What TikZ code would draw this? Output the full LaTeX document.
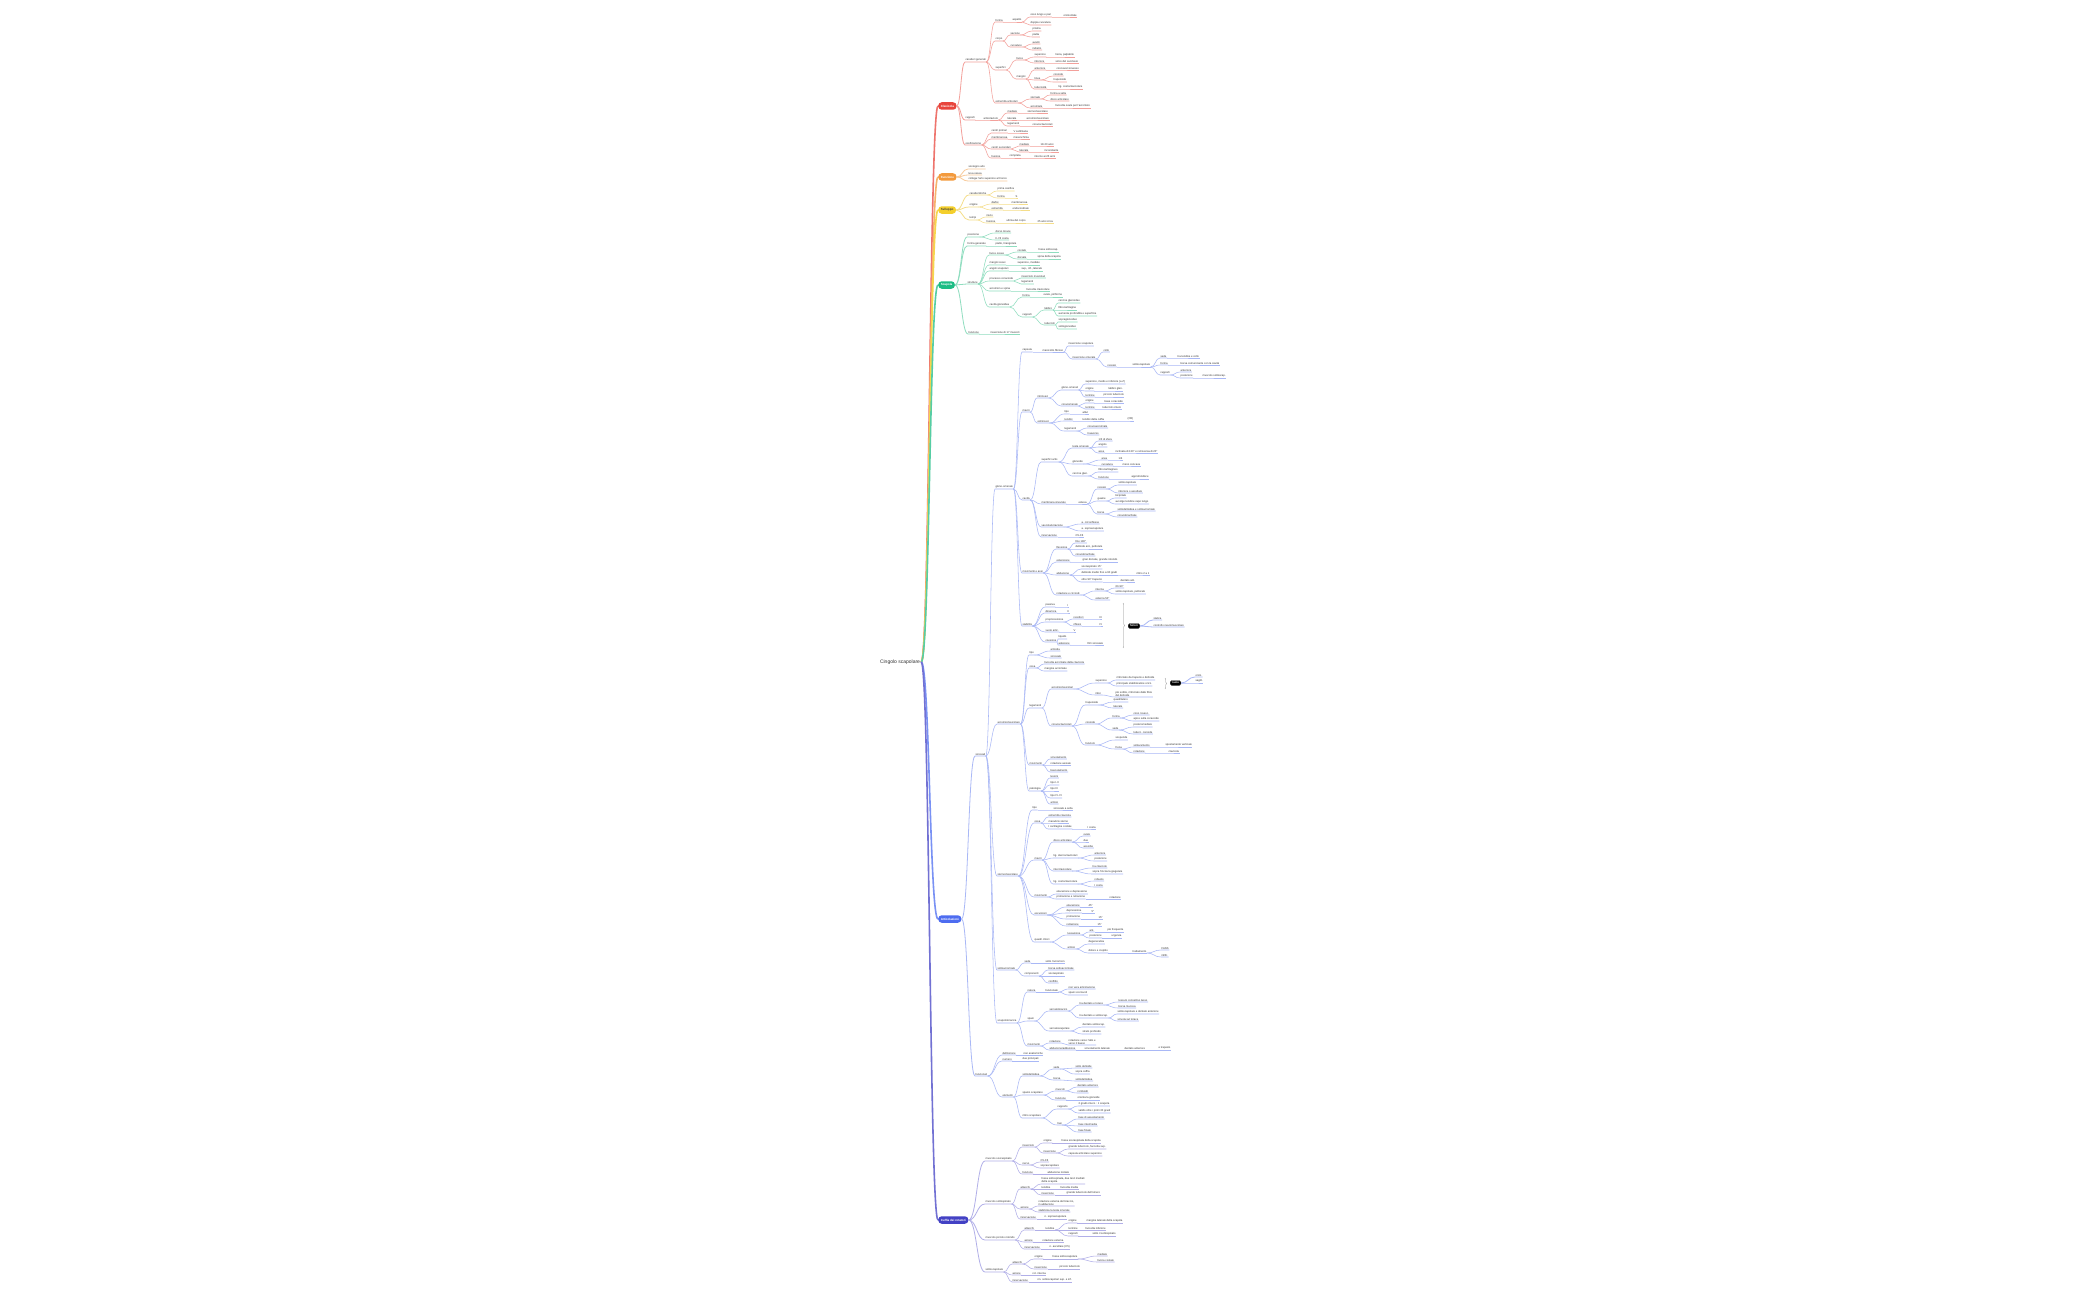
\documentclass[tikz,border=0pt]{standalone}
\usepackage{fontspec}
\setmainfont{Liberation Sans}
\usetikzlibrary{calc,decorations.pathreplacing}
\definecolor{txt}{HTML}{333333}
\definecolor{cR}{HTML}{E8453C}\definecolor{lR}{HTML}{F3A09B}
\definecolor{cO}{HTML}{F39A3D}\definecolor{lO}{HTML}{F8CB9C}
\definecolor{cY}{HTML}{F4CF2C}\definecolor{lY}{HTML}{F5DE8A}
\definecolor{cG}{HTML}{1DBD85}\definecolor{lG}{HTML}{8FDDBF}
\definecolor{cB}{HTML}{4D6CF0}\definecolor{lB}{HTML}{A9B8F6}
\definecolor{cP}{HTML}{4341C4}\definecolor{lP}{HTML}{B1AFE8}
\newcommand\tf{\fontsize{2.7}{3.1}\selectfont}
\tikzset{
 tp/.style={anchor=south west, inner xsep=0.4pt, inner ysep=0.45pt, font=\tf, text=txt, align=left},
 cn/.style={draw=br, line width=0.55pt},
 cnb/.style={draw=br, line width=0.8pt},
 pill/.style={anchor=west, rounded corners=3.5pt, minimum height=7.5pt, inner xsep=2.6pt, inner ysep=0pt, text=white, font=\bfseries\fontsize{3}{3.5}\selectfont},
 rootln/.style={line width=1.6pt},
 brc/.style={decorate, decoration={brace, amplitude=1.5pt}, draw=black!45, line width=0.4pt},
 sumn/.style={anchor=west, fill=black, draw=black!60, text=white, rounded corners=1.5pt, minimum height=5pt, inner xsep=2pt, inner ysep=0pt, font=\bfseries\fontsize{2.7}{3}\selectfont}
}
\newcommand\T[5]{\node[tp] (#1) at (#3,#4) {#5};
 \draw[cn] let \p1=(#2.south east), \p2=(#1.south west) in (\p1) .. controls ({0.5*\x1+0.5*\x2},\y1) and ({0.5*\x1+0.5*\x2},\y2) .. (\p2) -- (#1.south east);}
\newcommand\TP[5]{\node[tp] (#1) at (#3,#4) {#5};
 \draw[cnb] let \p1=(#2.east), \p2=(#1.south west) in (\p1) .. controls ({0.5*\x1+0.5*\x2},\y1) and ({0.5*\x1+0.5*\x2},\y2) .. (\p2) -- (#1.south east);}
\newcommand\RT[2]{\draw[rootln,draw=#2] let \p1=(root.east), \p2=(#1.west) in (\p1) .. controls ({0.5*\x1+0.5*\x2},\y1) and ({0.5*\x1+0.5*\x2},\y2) .. (\p2);}
\begin{document}
\begin{tikzpicture}[x=1pt,y=-1pt]
\fill[white] (0,0) rectangle (2100,1300);
\useasboundingbox (0,0) rectangle (2100,1300);
\node[font=\fontsize{5}{6}\selectfont, text=txt, inner sep=1pt] (root) at (900,662) {Cingolo scapolare};
% pill placeholders for connectors
\path (938,106) coordinate (R0) (938,177) coordinate (O0) (938,210) coordinate (Y0) (938,285) coordinate (G0) (938,919) coordinate (B0) (938,1220) coordinate (P0);
\draw[rootln,draw=cR!75] let \p1=(root.east), \p2=(R0) in (\p1) .. controls ({0.5*\x1+0.5*\x2},\y1) and ({0.5*\x1+0.5*\x2},\y2) .. (\p2);
\draw[rootln,draw=cO!75] let \p1=(root.east), \p2=(O0) in (\p1) .. controls ({0.5*\x1+0.5*\x2},\y1) and ({0.5*\x1+0.5*\x2},\y2) .. (\p2);
\draw[rootln,draw=cY!85] let \p1=(root.east), \p2=(Y0) in (\p1) .. controls ({0.5*\x1+0.5*\x2},\y1) and ({0.5*\x1+0.5*\x2},\y2) .. (\p2);
\draw[rootln,draw=cG!75] let \p1=(root.east), \p2=(G0) in (\p1) .. controls ({0.5*\x1+0.5*\x2},\y1) and ({0.5*\x1+0.5*\x2},\y2) .. (\p2);
\draw[rootln,draw=cB!75] let \p1=(root.east), \p2=(B0) in (\p1) .. controls ({0.5*\x1+0.5*\x2},\y1) and ({0.5*\x1+0.5*\x2},\y2) .. (\p2);
\draw[rootln,draw=cP!75] let \p1=(root.east), \p2=(P0) in (\p1) .. controls ({0.5*\x1+0.5*\x2},\y1) and ({0.5*\x1+0.5*\x2},\y2) .. (\p2);
\node[pill,fill=cR] (R) at (R0) {Clavicola};
\node[pill,fill=cO] (O) at (O0) {Funzione};
\node[pill,fill=cY,text=black!75] (Y) at (Y0) {Sviluppo};
\node[pill,fill=cG] (G) at (G0) {Scapola};
\node[pill,fill=cB] (B) at (B0) {Articolazioni};
\node[pill,fill=cP] (P) at (P0) {Cuffia dei rotatori};
% ================= RED
\colorlet{br}{lR}
\TP{r1}{R}{965}{62}{caratteri generali}
\T{r1a}{r1}{995}{22}{forma}
\T{r1a1}{r1a}{1012}{22}{aspetto}
\T{r1a1a}{r1a1}{1030}{17}{osso lungo e pari}
\T{r1a1a1}{r1a1a}{1063}{17}{orizzontale}
\T{r1a1b}{r1a1}{1030}{25}{doppia curvatura}
\T{r1b}{r1}{995}{41}{corpo}
\T{r1b1}{r1b}{1010}{35}{sezione}
\T{r1b1a}{r1b1}{1032}{31}{prisma}
\T{r1b1b}{r1b1}{1032}{37}{piatta}
\T{r1b2}{r1b}{1010}{47}{curvature}
\T{r1b2a}{r1b2}{1032}{44}{avanti}
\T{r1b2b}{r1b2}{1032}{50}{indietro}
\T{r1c}{r1}{995}{70}{superfici}
\T{r1c1}{r1c}{1016}{60}{facce}
\T{r1c1a}{r1c1}{1034}{57}{superiore}
\T{r1c1a1}{r1c1a}{1055}{57}{liscia, palpabile}
\T{r1c1b}{r1c1}{1034}{63}{inferiore}
\T{r1c1b1}{r1c1b}{1055}{63}{solco del succlavio}
\T{r1c2}{r1c}{1016}{79}{margini}
\T{r1c2a}{r1c2}{1034}{70}{anteriore}
\T{r1c2a1}{r1c2a}{1056}{70}{concavo/convesso}
\T{r1c2b}{r1c2}{1034}{80}{linee}
\T{r1c2b1}{r1c2b}{1053}{76}{conoide}
\T{r1c2b2}{r1c2b}{1053}{82}{trapezoide}
\T{r1c2c}{r1c2}{1034}{89}{tuberosità}
\T{r1c2c1}{r1c2c}{1058}{89}{lig. costoclavicolare}
\T{r1d}{r1}{995}{103}{estremità articolari}
\T{r1d1}{r1d}{1030}{99}{sternale}
\T{r1d1a}{r1d1}{1050}{95}{forma a sella}
\T{r1d1b}{r1d1}{1050}{101}{disco articolare}
\T{r1d2}{r1d}{1030}{108}{acromiale}
\T{r1d2a}{r1d2}{1055}{108}{faccetta ovale per l'acromion}
\TP{r2}{R}{965}{120}{rapporti}
\T{r2a}{r2}{983}{120}{articolazioni}
\T{r2a1}{r2a}{1007}{113}{mediale}
\T{r2a1a}{r2a1}{1027}{113}{sternoclavicolare}
\T{r2a2}{r2a}{1007}{120}{laterale}
\T{r2a2a}{r2a2}{1026}{120}{acromioclavicolare}
\T{r2a3}{r2a}{1007}{126}{legamenti}
\T{r2a3a}{r2a3}{1032}{126}{coracoclavicolari}
\TP{r3}{R}{965}{145}{ossificazione}
\T{r3a}{r3}{991}{133}{centri primari}
\T{r3a1}{r3a}{1013}{133}{V settimana}
\T{r3b}{r3}{991}{139}{membranosa}
\T{r3b1}{r3b}{1013}{139}{mesenchima}
\T{r3c}{r3}{991}{149}{centri secondari}
\T{r3c1}{r3c}{1019}{146}{mediale}
\T{r3c1a}{r3c1}{1040}{146}{18-20 anni}
\T{r3c2}{r3c}{1019}{152}{laterale}
\T{r3c2a}{r3c2}{1044}{152}{inconstante}
\T{r3d}{r3}{991}{158}{fusione}
\T{r3d1}{r3d}{1009}{158}{completa}
\T{r3d1a}{r3d1}{1034}{158}{intorno ai 25 anni}
% ================= ORANGE
\colorlet{br}{lO}
\TP{o1}{O}{968}{169}{sostegno arto}
\TP{o2}{O}{968}{175}{leva ossea}
\TP{o3}{O}{968}{181}{collega l'arto superiore al tronco}
% ================= YELLOW
\colorlet{br}{lY}
\TP{y1}{Y}{969}{195}{caratteristiche}
\T{y1a}{y1}{997}{191}{prima ossifica}
\T{y1b}{y1}{997}{198}{forma}
\T{y1b1}{y1b}{1015}{198}{S}
\TP{y2}{Y}{969}{207}{origine}
\T{y2a}{y2}{991}{204}{diafisi}
\T{y2a1}{y2a}{1011}{204}{membranosa}
\T{y2b}{y2}{991}{210}{estremità}
\T{y2b1}{y2b}{1012}{210}{endocondrale}
\TP{y3}{Y}{969}{220}{tempi}
\T{y3a}{y3}{986}{217}{inizio}
\T{y3b}{y3}{986}{223}{fusione}
\T{y3b1}{y3b}{1006}{223}{ultima del corpo}
\T{y3b1a}{y3b1}{1037}{223}{25 anni circa}
% ================= GREEN
\colorlet{br}{lG}
\TP{g1}{G}{967}{237}{posizione}
\T{g1a}{g1}{995}{233}{dorso torace}
\T{g1b}{g1}{995}{240}{II-VII costa}
\TP{g2}{G}{967}{246}{forma generale}
\T{g2a}{g2}{995}{246}{piatto, triangolare}
\TP{g3}{G}{967}{284}{strutture}
\T{g3a}{g3}{989}{255}{facce ossee}
\T{g3a1}{g3a}{1017}{252}{costale}
\T{g3a1a}{g3a1}{1038}{252}{fossa sottoscap.}
\T{g3a2}{g3a}{1017}{259}{dorsale}
\T{g3a2a}{g3a2}{1037}{259}{spina della scapola}
\T{g3b}{g3}{989}{265}{margini ossei}
\T{g3b1}{g3b}{1017}{265}{superiore, mediale}
\T{g3c}{g3}{989}{271}{angoli scapolari}
\T{g3c1}{g3c}{1021}{271}{sup., inf., laterale}
\T{g3d}{g3}{989}{281}{processo coracoide}
\T{g3d1}{g3d}{1021}{278}{inserzioni muscolari}
\T{g3d2}{g3d}{1021}{284}{legamenti}
\T{g3e}{g3}{989}{291}{acromion e spina}
\T{g3e1}{g3e}{1026}{291}{faccetta clavicolare}
\T{g3f}{g3}{989}{307}{cavità glenoidea}
\T{g3f1}{g3f}{1022}{297}{forma}
\T{g3f1a}{g3f1}{1043}{297}{ovale, piriforme}
\T{g3f2}{g3f}{1022}{317}{rapporti}
\T{g3f2a}{g3f2}{1044}{310}{labbro}
\T{g3f2a1}{g3f2a}{1058}{303}{cercine glenoideo}
\T{g3f2a2}{g3f2a}{1058}{310}{fibrocartilagine}
\T{g3f2a3}{g3f2a}{1058}{316}{aumenta profondità e superficie}
\T{g3f2b}{g3f2}{1044}{325}{tubercoli}
\T{g3f2b1}{g3f2b}{1058}{322}{sopraglenoideo}
\T{g3f2b2}{g3f2b}{1058}{329}{sottoglenoideo}
\TP{g4}{G}{968}{334}{funzione}
\T{g4a}{g4}{990}{334}{inserzione di 17 muscoli}
% ================= BLUE
\colorlet{br}{lB}
\TP{b1}{B}{975}{756}{sinoviali}
\TP{b2}{B}{975}{1076}{funzionali}
% gleno-omerale
\T{ga}{b1}{995}{489}{gleno-omerale}
\T{ga1}{ga}{1022}{352}{capsula}
\T{ga1a}{ga1}{1042}{352}{manicotto fibroso}
\T{ga1a1}{ga1a}{1068}{346}{inserzione scapolare}
\T{ga1a2}{ga1a}{1072}{359}{inserzione omerale}
\T{ga1a2a}{ga1a2}{1103}{352}{collo}
\T{ga1a2b}{ga1a2}{1107}{367}{recessi}
\T{ga1a2b1}{ga1a2b}{1132}{367}{sottoscapolare}
\T{ga1a2b1a}{ga1a2b1}{1160}{358}{sede}
\T{ga1a2b1a1}{ga1a2b1a}{1177}{358}{tra tendine e collo}
\T{ga1a2b1b}{ga1a2b1}{1160}{365}{forma}
\T{ga1a2b1b1}{ga1a2b1b}{1180}{365}{borsa comunicante con la cavità}
\T{ga1a2b1c}{ga1a2b1}{1160}{375}{rapporti}
\T{ga1a2b1c1}{ga1a2b1c}{1180}{372}{anteriore}
\T{ga1a2b1c2}{ga1a2b1c}{1180}{378}{posteriore}
\T{ga1a2b1c2a}{ga1a2b1c2}{1202}{378}{muscolo sottoscap.}
\T{ga2}{ga}{1022}{412}{mezzi}
\T{ga2a}{ga2}{1037}{398}{intrinseci}
\T{ga2a1}{ga2a}{1061}{390}{gleno-omerali}
\T{ga2a1a}{ga2a1}{1085}{384}{superiore, medio e inferiore (a Z)}
\T{ga2a1b}{ga2a1}{1085}{391}{origine}
\T{ga2a1b1}{ga2a1b}{1108}{391}{labbro glen.}
\T{ga2a1c}{ga2a1}{1085}{397}{termine}
\T{ga2a1c1}{ga2a1c}{1103}{397}{piccolo tubercolo}
\T{ga2a2}{ga2a}{1061}{406}{coracomerale}
\T{ga2a2a}{ga2a2}{1085}{403}{origine}
\T{ga2a2a1}{ga2a2a}{1104}{403}{base coracoide}
\T{ga2a2b}{ga2a2}{1085}{409}{termine}
\T{ga2a2b1}{ga2a2b}{1102}{409}{tubercoli omero}
\T{ga2b}{ga2}{1037}{423}{estrinseci}
\T{ga2b1}{ga2b}{1064}{414}{tipo}
\T{ga2b1a}{ga2b1}{1082}{414}{attivi}
\T{ga2b2}{ga2b}{1064}{421}{tendini}
\T{ga2b2a}{ga2b2}{1082}{421}{tendini della cuffia}
\T{ga2b2a1}{ga2b2a}{1127}{421}{(CR)}
\T{ga2b3}{ga2b}{1064}{431}{legamenti}
\T{ga2b3a}{ga2b3}{1087}{428}{coracoacromiale}
\T{ga2b3b}{ga2b3}{1087}{435}{trasverso}
\T{ga3}{ga}{1022}{500}{cavità}
\T{ga3a}{ga3}{1041}{462}{superfici artic.}
\T{ga3a1}{ga3a}{1072}{448}{testa omerale}
\T{ga3a1a}{ga3a1}{1098}{441}{1/3 di sfera}
\T{ga3a1b}{ga3a1}{1098}{447}{angolo}
\T{ga3a1c}{ga3a1}{1098}{453}{asse}
\T{ga3a1c1}{ga3a1c}{1115}{453}{inclinata di 130° e retroversa di 20°}
\T{ga3a2}{ga3a}{1072}{464}{glenoide}
\T{ga3a2a}{ga3a2}{1101}{460}{area}
\T{ga3a2a1}{ga3a2a}{1118}{460}{1/4}
\T{ga3a2b}{ga3a2}{1101}{466}{curvatura}
\T{ga3a2b1}{ga3a2b}{1122}{466}{meno concava}
\T{ga3a3}{ga3a}{1072}{476}{cercine glen.}
\T{ga3a3a}{ga3a3}{1098}{472}{fibrocartilagineo}
\T{ga3a3b}{ga3a3}{1098}{479}{funzione}
\T{ga3a3b1}{ga3a3b}{1131}{479}{approfondisce}
\T{ga3b}{ga3}{1041}{504}{membrana sinoviale}
\T{ga3b1}{ga3b}{1078}{504}{estesa}
\T{ga3b1a}{ga3b1}{1097}{489}{recessi}
\T{ga3b1a1}{ga3b1a}{1118}{485}{sottoscapolare}
\T{ga3b1a2}{ga3b1a}{1118}{493}{inferiore o ascellare}
\T{ga3b1b}{ga3b1}{1097}{501}{guaine}
\T{ga3b1b1}{ga3b1b}{1115}{498}{bicipitale}
\T{ga3b1b2}{ga3b1b}{1115}{504}{avvolge tendine capo lungo}
\T{ga3b1c}{ga3b1}{1097}{514}{borse}
\T{ga3b1c1}{ga3b1c}{1117}{511}{sottodeltoidea e sottoacromiale}
\T{ga3b1c2}{ga3b1c}{1117}{517}{coracobrachiale}
\T{ga3c}{ga3}{1041}{527}{vascolarizzazione}
\T{ga3c1}{ga3c}{1081}{524}{a. circonflesse}
\T{ga3c2}{ga3c}{1081}{531}{a. soprascapolare}
\T{ga3d}{ga3}{1041}{537}{innervazione}
\T{ga3d1}{ga3d}{1075}{537}{C5-C6}
\T{ga4}{ga}{1022}{573}{movimenti e assi}
\T{ga4a}{ga4}{1056}{549}{flessione}
\T{ga4a1}{ga4a}{1075}{543}{fino 180°}
\T{ga4a2}{ga4a}{1075}{549}{deltoide ant., pettorale}
\T{ga4a3}{ga4a}{1075}{556}{coracobrachiale}
\T{ga4b}{ga4}{1056}{562}{estensione}
\T{ga4b1}{ga4b}{1082}{562}{gran dorsale, grande rotondo}
\T{ga4c}{ga4}{1056}{575}{abduzione}
\T{ga4c1}{ga4c}{1081}{569}{sovraspinato 15°}
\T{ga4c2}{ga4c}{1081}{575}{deltoide medio fino a 90 gradi}
\T{ga4c2a}{ga4c2}{1136}{575}{ritmo 2 a 1}
\T{ga4c3}{ga4c}{1081}{582}{oltre 90° trapezio}
\T{ga4c3a}{ga4c3}{1120}{582}{dentato ant.}
\T{ga4d}{ga4}{1056}{595}{rotazione e circond.}
\T{ga4d1}{ga4d}{1095}{591}{interna}
\T{ga4d1a}{ga4d1}{1115}{588}{60-90°}
\T{ga4d1b}{ga4d1}{1115}{594}{sottoscapolare, pettorale}
\T{ga4d2}{ga4d}{1095}{600}{esterna 50°}
\T{ga5}{ga}{1022}{626}{stabilità}
\T{ga5a}{ga5}{1045}{607}{passiva}
\T{ga5a1}{ga5a}{1067}{607}{I}
\T{ga5b}{ga5}{1045}{613}{dinamica}
\T{ga5b1}{ga5b}{1067}{613}{II}
\T{ga5c}{ga5}{1045}{622}{propriocezione}
\T{ga5c1}{ga5c}{1073}{619}{recettori}
\T{ga5c1a}{ga5c1}{1099}{619}{III}
\T{ga5c2}{ga5c}{1073}{626}{riflessi}
\T{ga5c2a}{ga5c2}{1099}{626}{IV}
\T{ga5d}{ga5}{1045}{632}{vuoto artic.}
\T{ga5d1}{ga5d}{1073}{632}{V}
\T{ga5e}{ga5}{1045}{642}{coesione}
\T{ga5e1}{ga5e}{1058}{639}{liquido}
\T{ga5e2}{ga5e}{1058}{645}{adesione}
\T{ga5e2a}{ga5e2}{1087}{645}{film sinoviale}
\draw[brc] (1123,603) -- (1123,648);
\node[sumn] (s1) at (1128,626) {fattori};
\TP{s1a}{s1}{1153}{620}{statica}
\TP{s1b}{s1}{1153}{627}{controllo neuromuscolare}
% acromioclavicolare
\T{ac}{b1}{997}{724}{acromioclavicolare}
\T{ac1}{ac}{1029}{655}{tipo}
\T{ac1a}{ac1}{1050}{651}{artrodia}
\T{ac1b}{ac1}{1050}{658}{sinoviale}
\T{ac2}{ac}{1029}{668}{ossa}
\T{ac2a}{ac2}{1044}{664}{faccetta acromiale della clavicola}
\T{ac2b}{ac2}{1044}{671}{margine acromiale}
\T{ac3}{ac}{1029}{708}{legamenti}
\T{ac3a}{ac3}{1051}{689}{acromioclavicolari}
\T{ac3a1}{ac3a}{1095}{683}{superiore}
\T{ac3a1a}{ac3a1}{1116}{680}{rinforzato da trapezio e deltoide}
\T{ac3a1b}{ac3a1}{1116}{686}{principale stabilizzatore orizz.}
\T{ac3a2}{ac3a}{1095}{695}{infer.}
\T{ac3a2a}{ac3a2}{1115}{697}{più sottile, rinforzato dalle fibre\\del deltoide}
\draw[brc] (1165,678) -- (1165,689);
\node[sumn] (s2) at (1170,683) {ruolo};
\TP{s2a}{s2}{1195}{677}{orizz.}
\TP{s2b}{s2}{1195}{683}{sagitt.}
\T{ac3b}{ac3}{1051}{726}{coracoclavicolari}
\T{ac3b1}{ac3b}{1085}{705}{trapezoide}
\T{ac3b1a}{ac3b1}{1113}{702}{quadrilatero}
\T{ac3b1b}{ac3b1}{1113}{708}{laterale}
\T{ac3b2}{ac3b}{1085}{724}{conoide}
\T{ac3b2a}{ac3b2}{1112}{718}{forma}
\T{ac3b2a1}{ac3b2a}{1133}{715}{cono rovesc.}
\T{ac3b2a2}{ac3b2a}{1133}{721}{apice sulla coracoide}
\T{ac3b2b}{ac3b2}{1112}{730}{sede}
\T{ac3b2b1}{ac3b2b}{1133}{727}{posteromediale}
\T{ac3b2b2}{ac3b2b}{1133}{734}{tuberc. conoide}
\T{ac3b3}{ac3b}{1085}{745}{funzioni}
\T{ac3b3a}{ac3b3}{1115}{740}{sospende}
\T{ac3b3b}{ac3b3}{1115}{749}{frena}
\T{ac3b3b1}{ac3b3b}{1133}{747}{sollevamento}
\T{ac3b3b1a}{ac3b3b1}{1165}{747}{spostamento verticale}
\T{ac3b3b2}{ac3b3b}{1133}{753}{rotazione}
\T{ac3b3b2a}{ac3b3b2}{1168}{753}{clavicola}
\T{ac4}{ac}{1029}{765}{movimenti}
\T{ac4a}{ac4}{1050}{759}{scivolamento}
\T{ac4b}{ac4}{1050}{765}{rotazione assiale}
\T{ac4c}{ac4}{1050}{772}{basculamento}
\T{ac5}{ac}{1029}{791}{patologia}
\T{ac5a}{ac5}{1050}{778}{lesioni}
\T{ac5b}{ac5}{1050}{785}{tipo I-II}
\T{ac5c}{ac5}{1050}{791}{tipo III}
\T{ac5d}{ac5}{1050}{798}{tipo IV-VI}
\T{ac5e}{ac5}{1050}{804}{artrosi}
% sternoclavicolare
\T{sc}{b1}{997}{876}{sternoclavicolare}
\T{sc1}{sc}{1032}{810}{tipo}
\T{sc1a}{sc1}{1053}{810}{sinoviale a sella}
\T{sc2}{sc}{1034}{823}{ossa}
\T{sc2a}{sc2}{1048}{817}{estremità clavicola}
\T{sc2b}{sc2}{1048}{823}{manubrio sterno}
\T{sc2c}{sc2}{1048}{829}{I cartilagine costale}
\T{sc2c1}{sc2c}{1087}{829}{I costa}
\T{sc3}{sc}{1034}{860}{mezzi}
\T{sc3a}{sc3}{1053}{842}{disco articolare}
\T{sc3a1}{sc3a}{1083}{836}{ovale}
\T{sc3a2}{sc3a}{1083}{842}{due}
\T{sc3a3}{sc3a}{1083}{848}{assorbe}
\T{sc3b}{sc3}{1053}{858}{lig. sternoclavicolari}
\T{sc3b1}{sc3b}{1094}{855}{anteriore}
\T{sc3b2}{sc3b}{1094}{861}{posteriore}
\T{sc3c}{sc3}{1053}{871}{interclavicolare}
\T{sc3c1}{sc3c}{1092}{868}{tra clavicole}
\T{sc3c2}{sc3c}{1092}{874}{sopra l'incisura giugulare}
\T{sc3d}{sc3}{1053}{884}{lig. costoclavicolare}
\T{sc3d1}{sc3d}{1094}{881}{robusto}
\T{sc3d2}{sc3d}{1094}{887}{I costa}
\T{sc4}{sc}{1034}{897}{movimenti}
\T{sc4a}{sc4}{1056}{894}{elevazione e depressione}
\T{sc4b}{sc4}{1056}{899}{protrazione e retrazione}
\T{sc4b1}{sc4b}{1109}{899}{rotazione}
\T{sc5}{sc}{1034}{915}{escursioni}
\T{sc5a}{sc5}{1066}{907}{elevazione}
\T{sc5a1}{sc5a}{1088}{907}{45°}
\T{sc5b}{sc5}{1066}{913}{depressione}
\T{sc5b1}{sc5b}{1091}{913}{5°}
\T{sc5c}{sc5}{1066}{919}{protrazione}
\T{sc5c1}{sc5c}{1098}{919}{15°}
\T{sc5d}{sc5}{1066}{926}{retrazione}
\T{sc5d1}{sc5d}{1097}{926}{15°}
\T{sc6}{sc}{1034}{942}{quadri clinici}
\T{sc6a}{sc6}{1067}{935}{lussazione}
\T{sc6a1}{sc6a}{1089}{932}{ant.}
\T{sc6a1a}{sc6a1}{1107}{932}{più frequente}
\T{sc6a2}{sc6a}{1089}{938}{posteriore}
\T{sc6a2a}{sc6a2}{1111}{938}{urgenza}
\T{sc6b}{sc6}{1067}{949}{artrosi}
\T{sc6b1}{sc6b}{1088}{944}{degenerativa}
\T{sc6b2}{sc6b}{1088}{953}{dolore e crepitio}
\T{sc6b2a}{sc6b2}{1132}{953}{trattamento}
\T{sc6b2a1}{sc6b2a}{1161}{950}{FANS}
\T{sc6b2a2}{sc6b2a}{1161}{957}{infiltr.}
% sottoacromiale
\T{sa}{b1}{997}{970}{sottoacromiale}
\T{sa1}{sa}{1024}{963}{sede}
\T{sa1a}{sa1}{1045}{963}{sotto l'acromion}
\T{sa2}{sa}{1024}{976}{componenti}
\T{sa2a}{sa2}{1048}{970}{borsa sottoacromiale}
\T{sa2b}{sa2}{1048}{976}{sovraspinato}
\T{sa2c}{sa2}{1048}{983}{conflitto}
% scapolotoracica
\T{st}{b1}{997}{1023}{scapolotoracica}
\T{st1}{st}{1027}{992}{natura}
\T{st1a}{st1}{1045}{992}{funzionale}
\T{st1a1}{st1a}{1068}{989}{non vera articolazione}
\T{st1a2}{st1a}{1068}{995}{spazi scorrevoli}
\T{st2}{st}{1027}{1021}{spazi}
\T{st2a}{st2}{1049}{1011}{serratotoracico}
\T{st2a1}{st2a}{1079}{1005}{tra dentato e torace}
\T{st2a1a}{st2a1}{1118}{1002}{tessuto connettivo lasso}
\T{st2a1b}{st2a1}{1118}{1008}{borsa mucosa}
\T{st2a2}{st2a}{1079}{1018}{tra dentato e sottoscap.}
\T{st2a2a}{st2a2}{1117}{1014}{sottoscapolare e dentato anteriore}
\T{st2a2b}{st2a2}{1117}{1021}{scivola sul torace}
\T{st2b}{st2}{1049}{1031}{serratoscapolare}
\T{st2b1}{st2b}{1082}{1027}{dentato-sottoscap.}
\T{st2b2}{st2b}{1082}{1034}{strato profondo}
\T{st3}{st}{1027}{1046}{movimenti}
\T{st3a}{st3}{1049}{1043}{rotazione}
\T{st3a1}{st3a}{1068}{1045}{rotazione verso l'alto e\\verso il basso}
\T{st3b}{st3}{1049}{1050}{abduzione/adduzione}
\T{st3b1}{st3b}{1084}{1050}{scivolamento laterale}
\T{st3b1a}{st3b1}{1124}{1050}{dentato anteriore}
\T{st3b1a1}{st3b1a}{1158}{1050}{e trapezio}
% funzionali
\T{f1}{b2}{1002}{1055}{definizione}
\T{f1a}{f1}{1023}{1055}{non anatomiche}
\T{f2}{b2}{1002}{1061}{numero}
\T{f2a}{f2}{1022}{1061}{due principali}
\T{f3}{b2}{1002}{1097}{elementi}
\T{f3a}{f3}{1022}{1076}{sottodeltoidea}
\T{f3a1}{f3a}{1053}{1069}{sede}
\T{f3a1a}{f3a1}{1075}{1068}{sotto deltoide}
\T{f3a1b}{f3a1}{1075}{1074}{sopra cuffia}
\T{f3a2}{f3a}{1053}{1080}{borsa}
\T{f3a2a}{f3a2}{1075}{1081}{sottodeltoidea}
\T{f3b}{f3}{1022}{1095}{spazio scapolare}
\T{f3b1}{f3b}{1055}{1091}{muscoli}
\T{f3b1a}{f3b1}{1077}{1087}{dentato anteriore}
\T{f3b1b}{f3b1}{1077}{1093}{romboidi}
\T{f3b2}{f3b}{1055}{1100}{funzione}
\T{f3b2a}{f3b2}{1077}{1100}{orienta la glenoide}
\T{f3c}{f3}{1022}{1118}{ritmo scapolare}
\T{f3c1}{f3c}{1057}{1109}{rapporto}
\T{f3c1a}{f3c1}{1078}{1106}{2 gradi omero : 1 scapola}
\T{f3c1b}{f3c1}{1078}{1113}{valido oltre i primi 30 gradi}
\T{f3c2}{f3c}{1057}{1125}{fasi}
\T{f3c2a}{f3c2}{1078}{1119}{fase di assestamento}
\T{f3c2b}{f3c2}{1078}{1126}{fase intermedia}
\T{f3c2c}{f3c2}{1078}{1132}{fase finale}
% ================= PURPLE
\colorlet{br}{lP}
\TP{p1}{P}{985}{1161}{muscolo sovraspinato}
\T{p1a}{p1}{1022}{1147}{inserzioni}
\T{p1a1}{p1a}{1043}{1143}{origine}
\T{p1a1a}{p1a1}{1061}{1143}{fossa sovraspinata della scapola}
\T{p1a2}{p1a}{1043}{1153}{inserzione}
\T{p1a2a}{p1a2}{1068}{1149}{grande tubercolo, faccetta sup.}
\T{p1a2b}{p1a2}{1068}{1156}{capsula articolare superiore}
\T{p1b}{p1}{1022}{1165}{nervo}
\T{p1b1}{p1b}{1040}{1162}{C5-C6}
\T{p1b2}{p1b}{1040}{1168}{soprascapolare}
\T{p1c}{p1}{1022}{1174}{funzione}
\T{p1c1}{p1c}{1047}{1174}{abduzione iniziale}
\TP{p2}{P}{985}{1204}{muscolo sottospinato}
\T{p2a}{p2}{1020}{1189}{attacchi}
\T{p2a1}{p2a}{1041}{1184}{fossa sottospinata, due terzi mediali\\della scapola}
\T{p2a2}{p2a}{1041}{1189}{tendine}
\T{p2a2a}{p2a2}{1060}{1189}{faccetta media}
\T{p2a3}{p2a}{1041}{1195}{inserzione}
\T{p2a3a}{p2a3}{1066}{1195}{grande tubercolo dell'omero}
\T{p2b}{p2}{1020}{1209}{azione}
\T{p2b1}{p2b}{1038}{1206}{rotazione esterna del braccio,\\in adduzione}
\T{p2b2}{p2b}{1038}{1212}{stabilizza la testa omerale}
\T{p2c}{p2}{1020}{1219}{innervazione}
\T{p2c1}{p2c}{1044}{1219}{n. soprascapolare}
\TP{p3}{P}{985}{1240}{muscolo piccolo rotondo}
\T{p3a}{p3}{1024}{1230}{attacchi}
\T{p3a1}{p3a}{1045}{1230}{tendine}
\T{p3a1a}{p3a1}{1068}{1223}{origine}
\T{p3a1a1}{p3a1a}{1086}{1223}{margine laterale della scapola}
\T{p3a1b}{p3a1}{1068}{1230}{termine}
\T{p3a1b1}{p3a1b}{1085}{1230}{faccetta inferiore}
\T{p3a1c}{p3a1}{1068}{1236}{rapporti}
\T{p3a1c1}{p3a1c}{1092}{1236}{sotto il sottospinato}
\T{p3b}{p3}{1024}{1242}{azione}
\T{p3b1}{p3b}{1042}{1242}{rotazione esterna}
\T{p3c}{p3}{1024}{1249}{innervazione}
\T{p3c1}{p3c}{1049}{1249}{n. ascellare (C5)}
\TP{p4}{P}{985}{1272}{sottoscapolare}
\T{p4a}{p4}{1012}{1264}{attacchi}
\T{p4a1}{p4a}{1034}{1259}{origine}
\T{p4a1a}{p4a1}{1052}{1259}{fossa sottoscapolare}
\T{p4a1a1}{p4a1a}{1097}{1256}{mediale}
\T{p4a1a2}{p4a1a}{1097}{1262}{faccia costale}
\T{p4a2}{p4a}{1034}{1269}{inserzione}
\T{p4a2a}{p4a2}{1059}{1269}{piccolo tubercolo}
\T{p4b}{p4}{1012}{1275}{azione}
\T{p4b1}{p4b}{1032}{1275}{rot. interna}
\T{p4c}{p4}{1012}{1282}{innervazione}
\T{p4c1}{p4c}{1037}{1282}{nn. sottoscapolari sup. e inf.}
\end{tikzpicture}
\end{document}
